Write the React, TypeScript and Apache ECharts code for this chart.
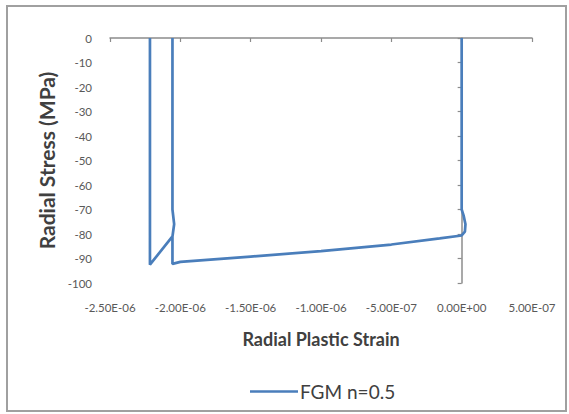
import React, { useEffect, useRef } from "react";
import * as echarts from "echarts";

// Radial plastic strain (x) and radial stress in MPa (y)
const strain: number[] = [
  0, 0, 1.4e-8, 2.7e-8, 2.3e-8, 0,
  -1.56e-7, -5.0e-7, -1.0e-6, -1.5e-6, -2.0e-6, -2.056e-6,
  -2.056e-6, -2.044e-6, -2.056e-6, -2.056e-6,
  -2.056e-6, -2.044e-6, -2.056e-6,
  -2.216e-6, -2.216e-6,
];
const stress: number[] = [
  0, -70, -72.5, -76, -79, -80.6,
  -81.8, -84.3, -87.0, -89.2, -91.4, -92.2,
  -81, -76, -70, 0,
  -70, -76, -81,
  -92.5, 0,
];
const seriesName = "FGM n=0.5";
const xTitle = "Radial Plastic Strain";
const yTitle = "Radial Stress (MPa)";
const xMin = -2.5e-6;
const xMax = 5e-7;
const xStep = 5e-7;
const yMin = -100;
const yMax = 0;
const yStep = 10;

function sci(v: number): string {
  let x = Number(v.toPrecision(10));
  if (Math.abs(x) < 1e-15) return "0.00E+00";
  const e = Math.floor(Math.log10(Math.abs(x)));
  const m = x / Math.pow(10, e);
  const ae = Math.abs(e);
  return m.toFixed(2) + "E" + (e < 0 ? "-" : "+") + (ae < 10 ? "0" : "") + ae;
}

export default function App() {
  const ref = useRef<HTMLDivElement>(null);
  useEffect(() => {
    if (!ref.current) return;
    const chart = echarts.init(ref.current, null, { renderer: "svg" });
    const data = strain.map((s, i) => [s, stress[i]]);
    const font = "Lato, 'Open Sans', sans-serif";
    const axisGrey = "#8c8c8c";
    chart.setOption({
      animation: false,
      backgroundColor: "#ffffff",
      textStyle: { fontFamily: font },
      grid: { left: 110, top: 38, width: 422, height: 245, containLabel: false },
      xAxis: [
        {
          type: "value",
          position: "bottom",
          min: xMin,
          max: xMax,
          interval: xStep,
          axisLine: { show: false, onZero: false },
          axisTick: { show: false },
          splitLine: { show: false },
          axisLabel: { formatter: sci, margin: 18, fontSize: 11.5, color: "#595959", fontFamily: font },
          name: xTitle,
          nameLocation: "middle",
          nameGap: 47,
          nameTextStyle: { fontSize: 18, fontWeight: "bold", color: "#404040", fontFamily: font },
        },
        {
          type: "value",
          position: "top",
          min: xMin,
          max: xMax,
          interval: xStep,
          axisLine: { show: true, onZero: false, lineStyle: { color: axisGrey, width: 1.5 } },
          axisTick: { show: true, inside: true, length: 4, lineStyle: { color: axisGrey, width: 1.2 } },
          axisLabel: { show: false },
          splitLine: { show: false },
        },
      ],
      yAxis: [
        {
          type: "value",
          position: "left",
          min: yMin,
          max: yMax,
          interval: yStep,
          axisLine: { show: false, onZero: false },
          axisTick: { show: false },
          splitLine: { show: false },
          axisLabel: { margin: 18, fontSize: 11.5, color: "#595959", fontFamily: font },
          name: yTitle,
          nameLocation: "middle",
          nameGap: 46,
          nameTextStyle: { fontSize: 21, fontWeight: "bold", color: "#404040", fontFamily: font },
        },
        {
          type: "value",
          position: "left",
          min: yMin,
          max: yMax,
          interval: yStep,
          axisLine: { show: true, onZero: true, onZeroAxisIndex: 0, lineStyle: { color: axisGrey, width: 1.5 } },
          axisTick: { show: true, inside: false, length: 4, lineStyle: { color: axisGrey, width: 1.2 } },
          axisLabel: { show: false },
          splitLine: { show: false },
        },
      ],
      legend: {
        data: [seriesName],
        left: 245,
        top: 377,
        icon: "rect",
        itemWidth: 48,
        itemHeight: 2.5,
        itemGap: 10,
        textStyle: { fontSize: 19, color: "#404040", fontFamily: font, padding: [0, 0, 0, -3] },
      },
      graphic: [
        {
          type: "rect",
          shape: { x: 7, y: 6, width: 559, height: 405 },
          style: { fill: "none", stroke: "#a0a0a0", lineWidth: 2 },
          silent: true,
          z: 100,
        },
      ],
      series: [
        {
          name: seriesName,
          type: "line",
          xAxisIndex: 0,
          yAxisIndex: 0,
          data,
          symbol: "none",
          showSymbol: false,
          lineStyle: { color: "#4a7ebb", width: 2.7 },
          itemStyle: { color: "#4a7ebb" },
          clip: false,
        },
      ],
    });
    return () => chart.dispose();
  }, []);
  return (
    <div
      ref={ref}
      style={{ position: "absolute", left: 0, top: 0, width: 569, height: 414 }}
    />
  );
}
